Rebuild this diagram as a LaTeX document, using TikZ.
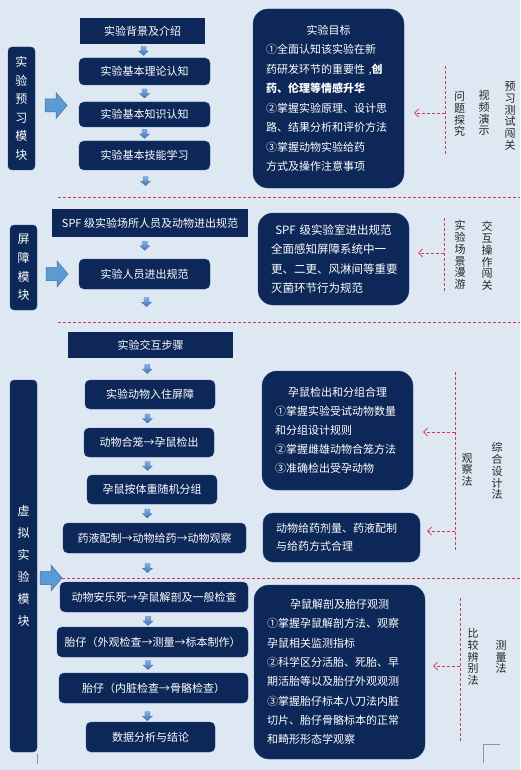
\documentclass[tikz,border=0pt]{standalone}
\usepackage{fontspec}
\setmainfont{Noto Sans CJK SC}
\usetikzlibrary{calc,arrows.meta}
\definecolor{bg}{HTML}{DDE8F3}
\definecolor{navy}{HTML}{0C2758}
\definecolor{navyedge}{HTML}{2A4A80}
\definecolor{redd}{HTML}{DC3358}
\definecolor{arrowfill}{HTML}{5B9BD5}
\definecolor{arrowedge}{HTML}{41719C}
\definecolor{sarrtop}{HTML}{86B0E0}
\definecolor{sarrbot}{HTML}{3F73B3}
\definecolor{artgray}{HTML}{8C949C}
\tikzset{
  flowsq/.style={fill=navy, text=white, font=\fontsize{11}{13}\selectfont, inner sep=0pt},
  flowrd/.style={flowsq, rounded corners=5pt, draw=navyedge, line width=0.4pt},
  modbox/.style={fill=navy, draw=navyedge, line width=0.4pt, rounded corners=4pt, text=white,
    align=center, minimum width=27pt, inner sep=0pt},
  infobox/.style={fill=navy, draw=navyedge, line width=0.4pt, rounded corners=15pt, text=white,
    align=left, inner xsep=13pt, inner ysep=0pt, font=\fontsize{11}{19.5}\selectfont},
  vlabel/.style={align=center, font=\fontsize{11}{11.8}\selectfont, text=black!85, inner sep=0pt},
  sepline/.style={draw=redd, dash pattern=on 3pt off 2pt, line width=0.7pt},
  redarr/.style={draw=redd, dash pattern=on 3pt off 2pt, line width=0.7pt,
    -{Straight Barb[length=4pt,width=8pt]}},
  smallarr/.pic={\shade[top color=sarrtop, bottom color=sarrbot, draw=sarrbot, line width=0.3pt]
    (-2.5,-4.5) -- (2.5,-4.5) -- (2.5,0) -- (5,0) -- (0,4.5) -- (-5,0) -- (-2.5,0) -- cycle;},
  bigarr/.pic={\fill[arrowfill, draw=arrowedge, line width=0.5pt]
    (-11,-6.5) -- (0,-6.5) -- (0,-13) -- (11,0) -- (0,13) -- (0,6.5) -- (-11,6.5) -- cycle;},
}
\begin{document}
\begin{tikzpicture}[x=1pt,y=-1pt]
\useasboundingbox (0,0) rectangle (520,770);
\fill[bg] (0,0) rectangle (520,770);

% ---------- module boxes ----------
\node[modbox, minimum height=123pt, font=\fontsize{12}{18.6}\selectfont] (M1) at (21.5,108.5) {实\\验\\预\\习\\模\\块};
\node[modbox, minimum height=85pt, font=\fontsize{12}{18.7}\selectfont] (M2) at (23.5,267.5) {屏\\障\\模\\块};
\node[modbox, minimum height=372pt, font=\fontsize{12}{22}\selectfont] (M3) at (23.5,566) {虚\\拟\\实\\验\\模\\块};

% big arrows
\pic at (56,105.5) {bigarr};
\pic at (57,274) {bigarr};
\pic at (51,578) {bigarr};

% ---------- separators ----------
\coordinate (s1a) at (58,197); \coordinate (s1b) at (520,197);
\coordinate (s2a) at (58,322); \coordinate (s2b) at (520,322);
\coordinate (s3a) at (62,578); \coordinate (s3b) at (520,578);
\draw[sepline] (s1a) -- (s1b);
\draw[sepline] (s2a) -- (s2b);
\draw[sepline] (s3a) -- (s3b);

% ---------- section 1 flow ----------
\node[flowsq, minimum width=125pt, minimum height=26pt] (A1) at (142.5,31) {实验背景及介绍};
\node[flowrd, minimum width=131pt, minimum height=27pt] (A2) at (144.5,71.5) {实验基本理论认知};
\node[flowrd, minimum width=131pt, minimum height=25pt] (A3) at (144.5,114.5) {实验基本知识认知};
\node[flowrd, minimum width=131pt, minimum height=29pt] (A4) at (144.5,155.5) {实验基本技能学习};
\pic at ($(A1.south)!0.5!(A2.north)$) {smallarr};
\pic at ($(A2.south)!0.5!(A3.north)$) {smallarr};
\pic at ($(A3.south)!0.5!(A4.north)$) {smallarr};
\pic at ($(A4.south)+(1,11)$) {smallarr};

% ---------- section 2 flow ----------
\node[flowsq, minimum width=196pt, minimum height=28pt] (B1) at (150,223) {SPF 级实验场所人员及动物进出规范};
\node[flowrd, minimum width=131pt, minimum height=30pt] (B2) at (144.5,274) {实验人员进出规范};
\pic at ($(B1.south)!0.4!(B2.north)+(-3,0)$) {smallarr};
\pic at ($(B2.south)+(2,13)$) {smallarr};

% ---------- section 3 flow ----------
\node[flowsq, minimum width=165pt, minimum height=26pt] (C1) at (150.5,345) {实验交互步骤};
\node[flowrd, minimum width=130pt, minimum height=29pt] (C2) at (150,394.5) {实验动物入住屏障};
\node[flowrd, minimum width=130pt, minimum height=29pt] (C3) at (149,442.5) {动物合笼→孕鼠检出};
\node[flowrd, minimum width=130pt, minimum height=29pt] (C4) at (152,489.5) {孕鼠按体重随机分组};
\node[flowrd, minimum width=183pt, minimum height=30pt] (C5) at (154.5,538) {药液配制→动物给药→动物观察};
\node[flowrd, minimum width=188pt, minimum height=30pt] (C6) at (154,597) {动物安乐死→孕鼠解剖及一般检查};
\node[flowrd, minimum width=191pt, minimum height=30pt] (C7) at (152.5,642) {胎仔（外观检查→测量→标本制作）};
\node[flowrd, minimum width=189pt, minimum height=30pt] (C8) at (153.5,688) {胎仔（内脏检查→骨骼检查）};
\node[flowrd, minimum width=129pt, minimum height=30pt] (C9) at (150.5,737) {数据分析与结论};
\pic at ($(C1.south)!0.5!(C2.north)+(-3,0)$) {smallarr};
\pic at ($(C2.south)!0.5!(C3.north)+(-2,0)$) {smallarr};
\pic at ($(C3.south)!0.5!(C4.north)+(-3,0)$) {smallarr};
\pic at ($(C4.south)!0.5!(C5.north)+(-6,0)$) {smallarr};
\pic at ($(C5.south)+(-7,15)$) {smallarr};
\pic at ($(C6.south)!0.6!(C7.north)+(-5,0)$) {smallarr};
\pic at ($(C7.south)!0.5!(C8.north)+(-5,0)$) {smallarr};
\pic at ($(C8.south)!0.7!(C9.north)+(-4,0)$) {smallarr};

% ---------- info boxes ----------
\node[infobox, text width=125pt, minimum height=179pt] (R1) at (328.5,98.5)
 {\makebox[\hsize]{实验目标}\\①全面认知该实验在新\\药研发环节的重要性 ,{\bfseries 创}\\{\bfseries 药、伦理等情感升华}\\②掌握实验原理、设计思\\路、结果分析和评价方法\\③掌握动物实验给药\\方式及操作注意事项};
\node[infobox, text width=125pt, minimum height=92pt, font=\fontsize{11.5}{19.3}\selectfont] (R2) at (333.5,259)
 {\makebox[\hsize]{SPF 级实验室进出规范}\\全面感知屏障系统中一\\更、二更、风淋间等重要\\灭菌环节行为规范};
\node[infobox, text width=125pt, minimum height=119pt, font=\fontsize{11}{19}\selectfont] (R3) at (337.5,430.5)
 {\makebox[\hsize]{孕鼠检出和分组合理}\\①掌握实验受试动物数量\\和分组设计规则\\②掌握雌雄动物合笼方法\\③准确检出受孕动物};
\node[infobox, rounded corners=10pt, text width=131pt, minimum height=49pt, font=\fontsize{11}{18}\selectfont] (R4) at (341.5,537.5)
 {动物给药剂量、药液配制\\与给药方式合理};
\node[infobox, text width=145pt, minimum height=174pt, font=\fontsize{11}{19.3}\selectfont] (R5) at (339.5,672)
 {\makebox[\hsize]{孕鼠解剖及胎仔观测}\\①掌握孕鼠解剖方法、观察\\孕鼠相关监测指标\\②科学区分活胎、死胎、早\\期活胎等以及胎仔外观观测\\③掌握胎仔标本八刀法内脏\\切片、胎仔骨骼标本的正常\\和畸形形态学观察};

% ---------- method columns ----------
\coordinate (v1t) at (445,66); \coordinate (v1b) at (445,155); \coordinate (v1m) at (445,113);
\draw[sepline] (v1t) -- (v1b);
\draw[redarr, shorten >=10pt] (v1m) -- (v1m -| R1.east);
\node[vlabel] (L1a) at (459.5,114) {问\\题\\探\\究};
\node[vlabel] (L1b) at (484,113) {视\\频\\演\\示};
\node[vlabel] (L1c) at (510,116) {预\\习\\测\\试\\闯\\关};

\coordinate (v2t) at (444,218); \coordinate (v2b) at (444,293); \coordinate (v2m) at (444,253);
\draw[sepline] (v2t) -- (v2b);
\draw[redarr, shorten >=9pt] (v2m) -- (v2m -| R2.east);
\node[vlabel] (L2a) at (460,255) {实\\验\\场\\景\\漫\\游};
\node[vlabel] (L2b) at (487,256) {交\\互\\操\\作\\闯\\关};

\coordinate (v3t) at (455,372); \coordinate (v3b) at (455,550);
\coordinate (v3m) at (455,432); \coordinate (v3n) at (455,531);
\draw[sepline] (v3t) -- (v3b);
\draw[redarr, shorten >=10pt] (v3m) -- (v3m -| R3.east);
\draw[redarr, shorten >=7pt] (v3n) -- (v3n -| R4.east);
\node[vlabel] (L3a) at (467,470) {观\\察\\法};
\node[vlabel] (L3b) at (497,471) {综\\合\\设\\计\\法};

\coordinate (v4t) at (460,598); \coordinate (v4b) at (460,743); \coordinate (v4m) at (460,666);
\draw[sepline] (v4t) -- (v4b);
\draw[redarr, shorten >=8pt] (v4m) -- (v4m -| R5.east);
\node[vlabel] (L4a) at (473,657) {比\\较\\辨\\别\\法};
\node[vlabel] (L4b) at (501,657) {测\\量\\法};

% ---------- small grey marks ----------
\draw[artgray, line width=0.5pt] (37,754) -- (37,764);
\draw[artgray, line width=0.5pt] (500,744) -- (483,744) -- (483,763);
\end{tikzpicture}
\end{document}
